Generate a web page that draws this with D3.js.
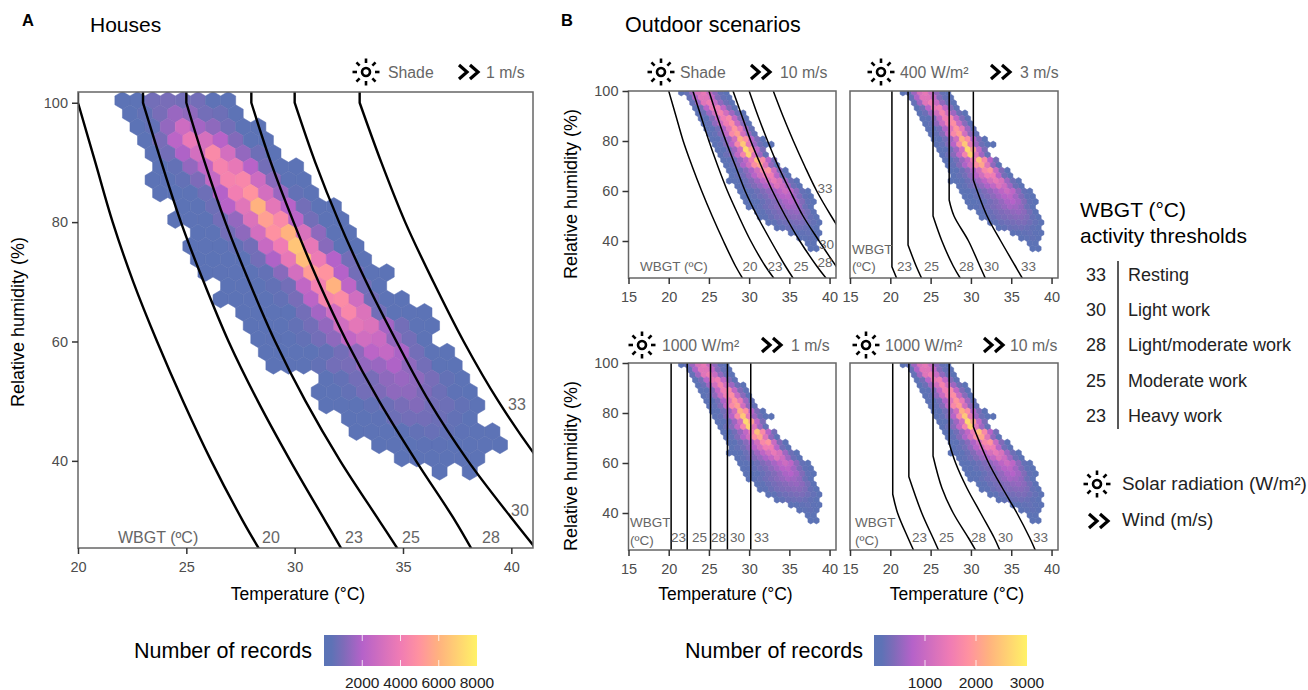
<!DOCTYPE html>
<html>
<head>
<meta charset="utf-8">
<style>
  body { margin: 0; background: #fff; font-family: "Liberation Sans", Arial, sans-serif; }
  .tick text { fill: #4d4d4d; font-family: "Liberation Sans", Arial, sans-serif; }
  .tick line { stroke: #333; stroke-width: 1.5; }
  .domain { display: none; }
</style>
</head>
<body>
<div id="chart"></div>
<script src="https://d3js.org/d3.v7.min.js"></script>
<script>
// hex rows: [first column, counts...], 0 = empty cell
var housesRows = [
  [0, 200,300,800,900,800,800,400,300],
  [0, 200,500,900,1500,1300,800,700,300],
  [1, 200,500,1400,2800,1700,1300,800,300,200],
  [1, 200,900,2200,3800,3100,2100,1100,300,200],
  [2, 300,800,1900,3000,4600,3000,1400,700,200],
  [2, 200,500,1400,2400,4300,3700,2100,800,300,200],
  [2, 200,300,500,1000,2500,4300,4500,2800,1200,300,200],
  [2, 200,200,300,700,2000,4100,5000,3000,1500,500,300],
  [4, 200,300,700,2100,3500,6000,3600,2100,800,300,200],
  [3, 200,250,300,800,1400,3300,5400,4600,2200,800,300,200],
  [5, 200,250,800,1300,3000,4900,6000,3200,1300,300,200],
  [4, 200,250,300,500,800,2600,4000,6600,3700,1200,300,200],
  [5, 200,200,250,300,800,1900,3700,6300,3900,2000,800,300],
  [5, 200,250,250,300,500,1200,3000,5300,5000,2000,800,300,200],
  [7, 200,250,250,500,800,2400,4200,6000,2300,800,300],
  [6, 200,200,250,250,500,900,2200,4400,4700,2900,800,300,200],
  [8, 200,200,250,300,800,1700,2900,4500,3300,800,300,250,200],
  [8, 200,200,250,500,800,1400,2900,3600,3300,1700,800,300,200],
  [9, 200,250,300,500,800,1300,2400,2900,2700,1400,800,300],
  [9, 200,200,250,300,500,800,1300,2200,2500,1800,800,300,200],
  [10, 200,250,250,500,800,900,1400,1500,1900,1300,800,300,200],
  [13, 300,500,800,900,1300,1500,1300,900,500,250],
  [13, 200,300,500,800,1000,1300,1300,1000,700,400,200],
  [13, 200,250,300,500,700,900,1100,800,700,500,300],
  [15, 200,300,400,700,800,800,700,500,300],
  [15, 200,250,300,400,500,600,500,400,300,250],
  [17, 200,250,300,400,400,300,300,250,200],
  [18, 200,250,250,300,250,250],
  [21, 200,0,200]
];
var outdoorRows = [
  [0, 80,200,600,1200,1400,1000,500,200,80],
  [1, 200,700,1300,1300,900,400,200,100],
  [2, 200,600,1300,1500,1000,500,250,100],
  [2, 100,300,800,1400,1500,900,400,150],
  [3, 100,250,600,1100,1600,1100,600,250,100],
  [3, 100,150,400,900,1500,1700,900,400,150],
  [4, 100,200,500,1000,1500,1800,1000,450,150],
  [4, 100,150,300,700,1300,1900,1400,600,200],
  [5, 100,200,400,900,1700,2000,1100,500,200],
  [5, 100,150,300,600,1100,2200,1800,800,350,120],
  [6, 100,200,400,800,1700,2500,1400,600,250,100,60],
  [6, 100,150,300,600,1100,2700,2000,900,350],
  [7, 120,250,450,900,1600,2600,1300,600,200],
  [7, 100,150,300,550,900,1500,2400,1700,800,300],
  [8, 100,200,400,700,1100,1800,2100,1300,500,150],
  [8, 100,150,250,450,700,1100,1700,1900,1000,400,120],
  [9, 100,200,300,500,800,1100,1500,1500,800,300,100],
  [8, 60,100,150,250,400,600,850,1150,1400,1200,600,250,100],
  [10, 100,180,280,400,520,700,900,1250,1050,600,250,100],
  [10, 80,120,180,260,380,500,650,850,1050,850,480,200,100],
  [11, 80,130,200,280,360,480,620,780,850,620,380,170,80],
  [11, 60,90,150,220,320,400,530,680,750,620,400,180,90],
  [12, 70,120,200,280,360,440,540,640,600,500,260,110],
  [13, 90,160,240,320,380,440,500,540,460,300,130],
  [14, 100,160,240,320,360,400,440,440,370,210,100],
  [15, 100,160,240,280,320,360,360,280,200,100],
  [17, 120,180,240,260,280,240,180,100],
  [19, 120,160,180,200,160,100],
  [21, 120,160,170,120],
  [22, 100,110],
  [23, 90,80]
];

// hex grid origin and cell size in data units (degC, %RH)
var housesGrid = {t0: 22.05, rh0: 100.4, dt: 0.697, drh: 2.22};
var outdoorGrid = {t0: 21.56, rh0: 99.4, dt: 0.7, drh: 2.08};

// threshold curves: temperature read at each RH level
var curveRh = [102, 100, 90, 80, 70, 60, 50, 40, 30, 25];
var housesCurves = [
  [20, 20, 20.8, 21.6, 22.55, 23.65, 24.85, 26.15, 27.6, 28.4],
  [23, 23, 23.85, 24.75, 25.8, 26.95, 28.3, 29.8, 31.4, 32.2],
  [25, 25, 25.85, 26.8, 27.9, 29.1, 30.5, 32.1, 33.9, 34.8],
  [28, 28, 28.9, 29.95, 31.1, 32.4, 33.9, 35.6, 37.4, 38.2],
  [30, 30, 30.95, 32.05, 33.3, 34.7, 36.2, 38, 40.1, 41.2],
  [33, 33, 34, 35.1, 36.4, 37.8, 39.4, 41.3, 43.6, 44.9]
];
var shade10Curves = [
  [20, 20, 20.9, 21.8, 22.9, 24.1, 25.4, 26.8, 28.3, 29.2],
  [23, 23, 24, 25, 26.1, 27.3, 28.7, 30.2, 32, 33.1],
  [25, 25, 26, 27.1, 28.3, 29.5, 31, 32.7, 34.5, 35.5],
  [28, 28, 29.1, 30.2, 31.5, 32.9, 34.5, 36.3, 38.4, 39.6],
  [30, 30, 31.1, 32.3, 33.6, 35.1, 36.7, 38.7, 40.8, 42],
  [33, 33, 34.2, 35.5, 36.9, 38.4, 40.2, 42.2, 44.5, 45.7]
];
// [rh, t] pairs for panels where the curve has a straight vertical part
var solar400Curves = [
  [[102,20.2],[29.7,20.2],[25,20.8]],
  [[102,22.2],[38.4,22.2],[30,23.2],[25,23.9]],
  [[102,25.3],[50,25.3],[40,26.4],[30,27.8],[25,28.7]],
  [[102,27.3],[56.4,27.3],[50,27.9],[40,29.7],[30,31.1],[25,31.8]],
  [[102,30.3],[64.4,30.3],[50,32],[40,33.7],[30,35.5],[25,36.4]]
];
var solar1000LowCurves = [
  [[102,20.3],[25,20.3]],
  [[102,22.3],[25,22.3]],
  [[102,25.2],[25,25.2]],
  [[102,27.3],[25,27.3]],
  [[102,30.2],[25,30.2]]
];
var solar1000HighCurves = [
  [[102,20.3],[47.5,20.3],[40,20.9],[30,22.2],[25,22.9]],
  [[102,22.3],[54.5,22.3],[40,23.9],[30,25.3],[25,26]],
  [[102,25.3],[62.8,25.3],[50,26.4],[40,27.8],[30,29.7],[25,30.6]],
  [[102,27.3],[67.9,27.3],[60,28.1],[50,29.5],[40,31.2],[30,32.9],[25,33.6]],
  [[102,30.3],[74.5,30.3],[60,32.2],[50,33.9],[40,35.7],[30,37.3],[25,38]]
];

var housesXTicks = [20, 25, 30, 35, 40];
var outdoorXTicks = [15, 20, 25, 30, 35, 40];
var rhTicks = [40, 60, 80, 100];
var housesLegendTicks = [2000, 4000, 6000, 8000];
var outdoorLegendTicks = [1000, 2000, 3000];
var activityValues = ["33", "30", "28", "25", "23"];
var activityNames = ["Resting", "Light work", "Light/moderate work", "Moderate work", "Heavy work"];
var colorStops = [0, 0.05, 0.13, 0.25, 0.5, 0.62, 0.75, 1];
var colorValues = ["#5a74b6", "#5e72b6", "#7f6bb9", "#b562c9", "#f07cb4", "#ff92a0", "#ffb27f", "#fff266"];

var svg = d3.select("#chart").append("svg")
  .attr("width", 1308)
  .attr("height", 690)
  .style("display", "block");

var grey = "#666";

function colorFor(max) {
  return d3.scaleLinear().domain(colorStops.map(function (s) { return s * max; })).range(colorValues);
}

function sun(cx, cy) {
  var g = svg.append("g").attr("transform", "translate(" + cx + "," + cy + ")");
  g.append("circle").attr("r", 4).attr("fill", "none").attr("stroke", "#000").attr("stroke-width", 2.6);
  d3.range(8).forEach(function (i) {
    var a = i * Math.PI / 4;
    g.append("line")
      .attr("x1", 9 * Math.cos(a)).attr("y1", 9 * Math.sin(a))
      .attr("x2", 13.5 * Math.cos(a)).attr("y2", 13.5 * Math.sin(a))
      .attr("stroke", "#000").attr("stroke-width", 2.6);
  });
}

function chevrons(cx, cy) {
  var g = svg.append("g").attr("transform", "translate(" + cx + "," + cy + ")");
  [-11, 0].forEach(function (dx) {
    g.append("path")
      .attr("d", "M" + dx + ",-7 L" + (dx + 8) + ",0 L" + dx + ",7")
      .attr("fill", "none").attr("stroke", "#000").attr("stroke-width", 3.2);
  });
}

function label(x, y, str, size, color, anchor, weight) {
  return svg.append("text")
    .attr("x", x).attr("y", y)
    .attr("font-size", size)
    .attr("fill", color || "#000")
    .attr("text-anchor", anchor || "start")
    .attr("font-weight", weight || "normal")
    .text(str);
}

function drawPanel(p) {
  var x = d3.scaleLinear().domain(p.xDomain).range([p.left, p.right]);
  var y = d3.scaleLinear().domain(p.yDomain).range([p.bottom, p.top]);
  var color = colorFor(p.max);
  var id = "clip" + p.id;

  svg.append("clipPath").attr("id", id).append("rect")
    .attr("x", p.left).attr("y", p.top)
    .attr("width", p.right - p.left).attr("height", p.bottom - p.top);

  var plot = svg.append("g").attr("clip-path", "url(#" + id + ")");
  var w = x(p.grid.t0 + p.grid.dt) - x(p.grid.t0);
  var h = y(p.grid.rh0 - p.grid.drh) - y(p.grid.rh0);
  var hexPath = "M0," + (-h * 2 / 3) + "L" + (w / 2) + "," + (-h / 3) + "L" + (w / 2) + "," + (h / 3) +
    "L0," + (h * 2 / 3) + "L" + (-w / 2) + "," + (h / 3) + "L" + (-w / 2) + "," + (-h / 3) + "Z";

  var cells = [];
  p.rows.forEach(function (row, r) {
    row.slice(1).forEach(function (count, i) {
      if (count > 0) cells.push({
        t: p.grid.t0 + (row[0] + i + (r % 2 ? 0.5 : 0)) * p.grid.dt,
        rh: p.grid.rh0 - r * p.grid.drh,
        count: count
      });
    });
  });

  plot.selectAll("path.hex").data(cells).enter().append("path")
    .attr("class", "hex")
    .attr("d", hexPath)
    .attr("transform", function (d) { return "translate(" + x(d.t) + "," + y(d.rh) + ")"; })
    .attr("fill", function (d) { return color(d.count); })
    .attr("stroke", function (d) { return d3.color(color(d.count)).darker(0.1); })
    .attr("stroke-width", 0.5);

  var smooth = d3.line()
    .x(function (d) { return x(d[1]); })
    .y(function (d) { return y(d[0]); })
    .curve(d3.curveCatmullRom.alpha(0.5));

  // the first stretch is straight down to the kink, only the rest bends
  p.curves.forEach(function (c) {
    var pts = typeof c[0] === "number" ? c.map(function (t, i) { return [curveRh[i], t]; }) : c;
    plot.append("path")
      .attr("d", "M" + x(pts[0][1]) + "," + y(pts[0][0]) + smooth(pts.slice(1)).replace("M", "L"))
      .attr("fill", "none")
      .attr("stroke", "#000")
      .attr("stroke-width", p.lineWidth);
  });

  svg.append("rect")
    .attr("x", p.left).attr("y", p.top)
    .attr("width", p.right - p.left).attr("height", p.bottom - p.top)
    .attr("fill", "none").attr("stroke", grey).attr("stroke-width", 1.5);

  svg.append("g")
    .attr("transform", "translate(0," + p.bottom + ")")
    .call(d3.axisBottom(x).tickValues(p.xTicks).tickSize(6).tickPadding(8))
    .selectAll("text").attr("font-size", 14.5);

  if (p.yAxis) {
    svg.append("g")
      .attr("transform", "translate(" + p.left + ",0)")
      .call(d3.axisLeft(y).tickValues(rhTicks).tickSize(6).tickPadding(4))
      .selectAll("text").attr("font-size", 14.5);
  }

  p.notes.forEach(function (n) {
    label(n[0], n[1], n[2], p.noteSize, grey);
  });
}

function drawLegend(left, top, titleX, max, ticks) {
  var width = 153, height = 31;
  var gradId = "grad" + max;
  var grad = svg.append("defs").append("linearGradient").attr("id", gradId);
  colorStops.forEach(function (s, i) {
    grad.append("stop").attr("offset", s).attr("stop-color", colorValues[i]);
  });
  var x = d3.scaleLinear().domain([0, max]).range([left, left + width]);

  svg.append("rect")
    .attr("x", left).attr("y", top).attr("width", width).attr("height", height)
    .attr("fill", "url(#" + gradId + ")");

  ticks.forEach(function (t) {
    if (t < max) {
      svg.append("line").attr("x1", x(t)).attr("x2", x(t)).attr("y1", top).attr("y2", top + 6)
        .attr("stroke", "#fff").attr("stroke-width", 0.8);
      svg.append("line").attr("x1", x(t)).attr("x2", x(t)).attr("y1", top + height - 6).attr("y2", top + height)
        .attr("stroke", "#fff").attr("stroke-width", 0.8);
    }
    label(x(t), 688, t, 15.5, "#222", "middle");
  });
  label(titleX, 658, "Number of records", 21.5);
}

var panelA = {
  id: "A", left: 78, right: 533, top: 92, bottom: 548,
  xDomain: [20, 41], yDomain: [25.4, 101.8], xTicks: housesXTicks, yAxis: true,
  rows: housesRows, grid: housesGrid, max: 8000, curves: housesCurves, lineWidth: 2.4, noteSize: 16,
  notes: [[118, 543, "WBGT (ºC)"], [262, 543, "20"], [345, 543, "23"], [402, 543, "25"], [482, 543, "28"], [511, 516, "30"], [508, 410, "33"]]
};
var outdoorY = [25.2, 100];
var panels = [
  {id: "B1", left: 628.5, right: 836, top: 91, bottom: 278, curves: shade10Curves, yAxis: true,
   notes: [[640, 271, "WBGT (ºC)"], [742.5, 271, "20"], [767.5, 271, "23"], [793.5, 271, "25"], [817.5, 267, "28"], [819, 249, "30"], [817.5, 193, "33"]]},
  {id: "B2", left: 850, right: 1058, top: 91, bottom: 278, curves: solar400Curves, yAxis: false,
   notes: [[852, 254, "WBGT"], [852, 271, "(ºC)"], [897, 271, "23"], [924, 271, "25"], [959, 271, "28"], [984, 271, "30"], [1021, 271, "33"]]},
  {id: "B3", left: 628.5, right: 836, top: 363, bottom: 550, curves: solar1000LowCurves, yAxis: true,
   notes: [[630, 527, "WBGT"], [630, 545, "(ºC)"], [671, 542, "23"], [692, 542, "25"], [711, 542, "28"], [730, 542, "30"], [754, 542, "33"]]},
  {id: "B4", left: 850, right: 1058, top: 363, bottom: 550, curves: solar1000HighCurves, yAxis: false,
   notes: [[855, 527, "WBGT"], [855, 545, "(ºC)"], [912, 542, "23"], [939, 542, "25"], [971, 542, "28"], [998, 542, "30"], [1033, 542, "33"]]}
];

drawPanel(panelA);
panels.forEach(function (p) {
  p.xDomain = [15, 40.8];
  p.yDomain = outdoorY;
  p.xTicks = outdoorXTicks;
  p.rows = outdoorRows;
  p.grid = outdoorGrid;
  p.max = 3000;
  p.lineWidth = 1.5;
  p.noteSize = 13.5;
  drawPanel(p);
});

// panel titles
label(22, 26, "A", 16.5, "#000", "start", "bold");
label(90, 32, "Houses", 21);
label(561, 26, "B", 16.5, "#000", "start", "bold");
label(625, 32, "Outdoor scenarios", 21.5);

// condition headers
var headers = [
  [366, 388, 470, 486, "Shade", "1 m/s"],
  [661, 680, 762, 780, "Shade", "10 m/s"],
  [881, 900, 1002, 1020, "400 W/m²", "3 m/s"],
  [642, 662, 773, 791, "1000 W/m²", "1 m/s"],
  [866, 885, 995, 1010, "1000 W/m²", "10 m/s"]
];
headers.forEach(function (h, i) {
  var cy = i < 3 ? 72 : 345;
  sun(h[0], cy);
  chevrons(h[2], cy);
  label(h[1], cy + 6, h[4], 15.8, grey);
  label(h[3], cy + 6, h[5], 15.8, grey);
});

// axis titles
label(298, 600, "Temperature (°C)", 17.5, "#000", "middle");
label(725.5, 600, "Temperature (°C)", 17.5, "#000", "middle");
label(957, 600, "Temperature (°C)", 17.5, "#000", "middle");
[[24, 322], [577, 194], [577, 466]].forEach(function (d) {
  label(0, 0, "Relative humidity (%)", 18, "#000", "middle")
    .attr("transform", "translate(" + d[0] + "," + d[1] + ") rotate(-90)");
});

// threshold legend
label(1080, 217, "WBGT (°C)", 21);
label(1080, 243, "activity thresholds", 21);
svg.append("line").attr("x1", 1118).attr("x2", 1118).attr("y1", 261).attr("y2", 429)
  .attr("stroke", "#222").attr("stroke-width", 1.5);
activityValues.forEach(function (v, i) {
  label(1106, 281 + i * 35.2, v, 18, "#222", "end");
  label(1128, 281 + i * 35.2, activityNames[i], 18, "#222");
});
sun(1097, 484);
label(1122, 490, "Solar radiation (W/m²)", 18.9, "#222");
chevrons(1100, 521);
label(1122, 526, "Wind (m/s)", 18.9, "#222");

drawLegend(324, 635, 134, 8000, housesLegendTicks);
drawLegend(874, 635, 685, 3000, outdoorLegendTicks);
</script>
</body>
</html>
